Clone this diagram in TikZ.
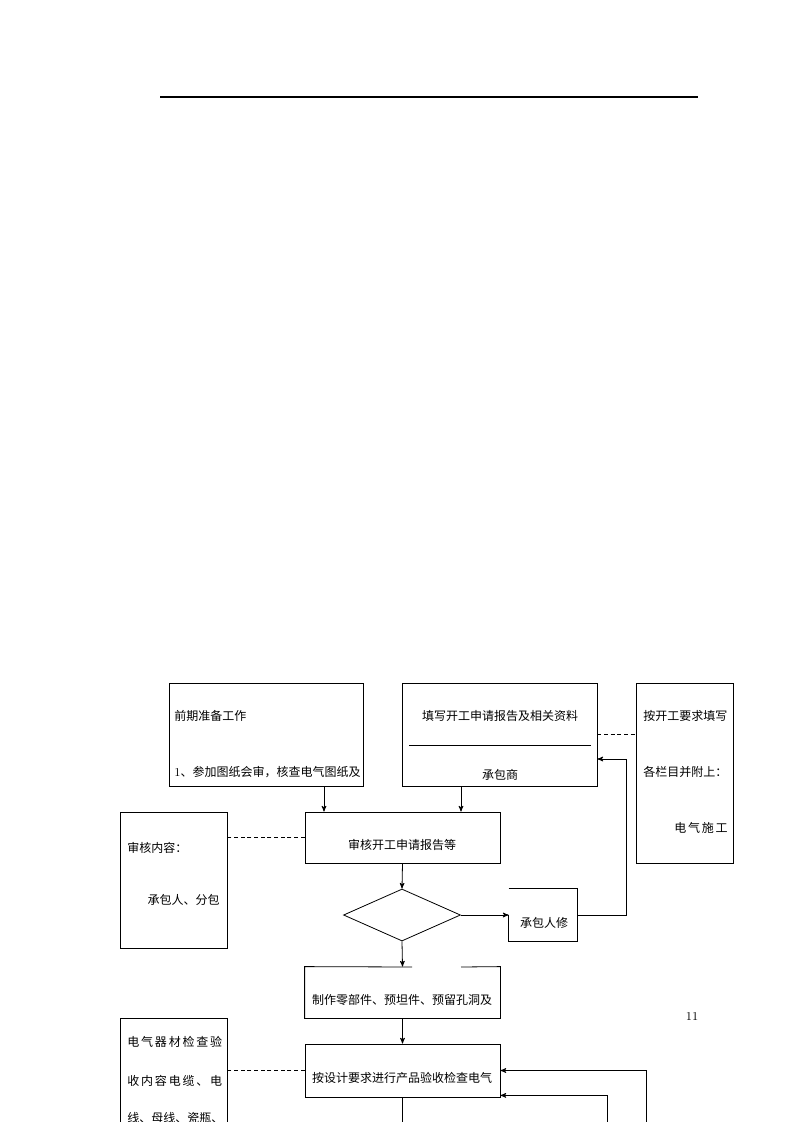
\documentclass[tikz,border=0pt]{standalone}
\usepackage{fontspec}
\newfontfamily\cjk{Noto Sans CJK SC}
\usetikzlibrary{arrows,shapes.geometric}

\begin{document}
\begin{tikzpicture}[x=0.75pt, y=-0.75pt, >=stealth', line width=0.6pt,
	font=\cjk\fontsize{9}{11}\selectfont,
	box/.style={draw, rectangle, inner sep=0pt},
	frame/.style={rectangle, inner sep=0pt},
	txt/.style={inner sep=0pt},
	link/.style={dash pattern=on 3pt off 2pt}]
	\useasboundingbox (0,0) rectangle (793,1122);
	\clip (0,0) rectangle (793,1122);

	% Header rule
	\draw [line width=0.8pt] (160,97) -- (698,97);

	% Boxes {prep, apply, fillreq, review, content, etc}
	\node [box, minimum width=145.5pt, minimum height=77.25pt]	(prep)     at (266,734.5)  {};
	\node [box, minimum width=146.25pt, minimum height=77.25pt]	(apply)    at (499.5,734.5) {};
	\node [box, minimum width=72.75pt, minimum height=135pt]	(fillreq)  at (684.5,773)  {};
	\node [box, minimum width=146.25pt, minimum height=38.25pt]	(review)   at (402.5,837.5) {};
	\node [box, minimum width=80.25pt, minimum height=102pt]	(content)  at (173.5,880)  {};
	\node [diamond, draw, inner sep=0pt, minimum width=87.75pt, minimum height=39pt]
																(check)    at (402,915)    {};
	\node [frame, minimum width=51pt, minimum height=39pt]		(fix)      at (543,915)    {};
	\node [frame, minimum width=146.25pt, minimum height=38.25pt]	(make)     at (402.5,992.5) {};
	\node [box, minimum width=146.25pt, minimum height=39.75pt]	(accept)   at (402.5,1070.5) {};
	\node [box, minimum width=80.25pt, minimum height=102pt]	(material) at (173.5,1086) {};

	% Texts
	\node [txt, anchor=west]	(prept)    at (174,716) {前期准备工作};
	\node [txt, anchor=west]	(prepi)    at (174,772) {{\rmfamily 1}、参加图纸会审，核查电气图纸及};
	\node [txt]					(applyt)   at (500,716) {填写开工申请报告及相关资料};
	\node [txt]					(contract) at (500,775) {承包商};
	\node [txt, anchor=west]	(fillt)    at (643,716) {按开工要求填写};
	\node [txt, anchor=west]	(filli)    at (643,772) {各栏目并附上：};
	\node [txt, anchor=east]	(fillj)    at (728,828) {\makebox[40pt][s]{电 气 施 工}};
	\node [txt]					(reviewt)  at (402,845) {审核开工申请报告等};
	\node [txt, anchor=west]	(contentt) at (127,848) {审核内容：};
	\node [txt, anchor=east]	(contenti) at (220,900) {承包人、分包};
	\node [txt]					(fixt)     at (544,923) {承包人修};
	\node [txt]					(maket)    at (402,1000) {制作零部件、预坦件、预留孔洞及};
	\node [txt]					(acceptt)  at (402,1078) {按设计要求进行产品验收检查电气};
	\node [txt, anchor=west]	(matt)     at (127,1042) {\makebox[69.75pt][s]{电 气 器 材 检 查 验}};
	\node [txt, anchor=west]	(mati)     at (127,1081) {\makebox[69.75pt][s]{收 内 容 电 缆 、 电}};
	\node [txt, anchor=west]	(matj)     at (127,1118) {线、母线、瓷瓶、};
	\node [txt, font=\rmfamily\fontsize{9}{11}\selectfont]	(pageno) at (692,1016) {11};

	% Open borders
	\draw (409,745) -- (591,745);
	\draw (fix.north west) -- (fix.north east) -- (fix.south east) -- (fix.south west) -- (fix.west);
	\coordinate (gapl) at (412,967);
	\coordinate (gapr) at (461,967);
	\draw (gapl) -- (make.north west) -- (make.south west) -- (make.south east) -- (make.north east) -- (gapr);

	% Main path
	\coordinate (ax) at (324,0);
	\coordinate (bx) at (461,0);
	\draw [->] (prep.south -| ax) -- (review.north -| ax);
	\draw [->] (apply.south -| bx) -- (review.north -| bx);
	\draw [->] (review.south) -- (check.north);
	\draw [->] (check.south) -- (make.north);
	\draw [->] (make.south) -- (accept.north);
	\coordinate (down) at (402.5,1140);
	\draw [->] (accept.south) -- (down);

	% Return paths
	\coordinate (ret) at (626,759);
	\draw [->] (check.east) -- (fix.west);
	\draw [->] (fix.east) -| (ret) -- (apply.east |- ret);
	\coordinate (loopa) at (646,1140);
	\coordinate (loopb) at (607,1140);
	\draw [->] (loopa) |- (accept.east);
	\draw [->] (loopb) |- ([yshift=1.5pt]accept.south east);

	% Dashed links
	\draw [link] (apply.east) -- (apply.east -| fillreq.west);
	\draw [link] (review.west) -- (review.west -| content.east);
	\draw [link] (accept.west) -- (accept.west -| material.east);

\end{tikzpicture}
\end{document}
